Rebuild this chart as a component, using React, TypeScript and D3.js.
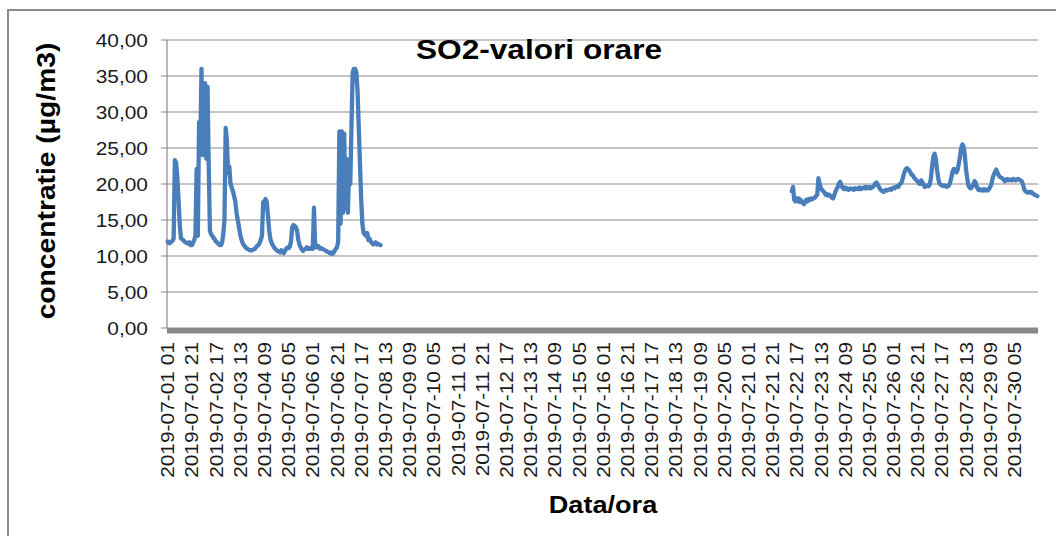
import React from 'react';
import * as d3 from 'd3';

// Hourly categories 2019-07-01 01 .. 2019-07-30 24
const dayNumbers = d3.range(1, 31);
const hourNumbers = d3.range(1, 25);
const categories: string[] = dayNumbers.flatMap((d) =>
  hourNumbers.map((h) => `2019-07-${String(d).padStart(2, '0')} ${String(h).padStart(2, '0')}`)
);

const tickLabels = [
  '2019-07-01 01', '2019-07-01 21', '2019-07-02 17', '2019-07-03 13', '2019-07-04 09', '2019-07-05 05',
  '2019-07-06 01', '2019-07-06 21', '2019-07-07 17', '2019-07-08 13', '2019-07-09 09', '2019-07-10 05',
  '2019-07-11 01', '2019-07-11 21', '2019-07-12 17', '2019-07-13 13', '2019-07-14 09', '2019-07-15 05',
  '2019-07-16 01', '2019-07-16 21', '2019-07-17 17', '2019-07-18 13', '2019-07-19 09', '2019-07-20 05',
  '2019-07-21 01', '2019-07-21 21', '2019-07-22 17', '2019-07-23 13', '2019-07-24 09', '2019-07-25 05',
  '2019-07-26 01', '2019-07-26 21', '2019-07-27 17', '2019-07-28 13', '2019-07-29 09', '2019-07-30 05',
];

const yTicks = [0, 5, 10, 15, 20, 25, 30, 35, 40];

// First measured block, hourly from 2019-07-01 01
const block1Start = '2019-07-01 01';
const block1Values = [
  12.0, 11.8, 11.8, 12.0, 12.1, 12.4,
  23.3, 23.0, 21.0, 18.0, 14.5, 12.5,
  12.3, 12.2, 12.0, 11.9, 11.8, 11.7, 11.9, 11.5, 11.5, 11.8, 12.2, 12.8,
  22.1, 12.8, 28.6, 24.7, 36.0, 24.0, 25.5, 34.0, 23.5, 33.5, 22.5, 13.5,
  13.0, 12.8, 12.5, 12.3, 12.0, 11.9, 11.7, 11.5, 11.5, 11.8, 13.0, 15.0,
  27.8, 26.0, 21.5, 22.4, 20.0, 19.5, 19.0, 18.3, 17.5, 16.0, 15.0, 14.0,
  13.0, 12.3, 11.8, 11.5, 11.3, 11.1, 11.0, 10.9, 10.8, 10.8, 10.8, 10.9,
  11.0, 11.2, 11.4, 11.5, 11.8, 12.2, 12.8, 17.5, 17.6, 17.9, 17.5, 15.5,
  13.5, 12.3, 11.8, 11.5, 11.2, 11.0, 10.8, 10.7, 10.6, 10.5, 10.8, 10.6,
  10.4, 10.7, 11.0, 11.2, 11.1, 11.3, 12.0, 14.0, 14.3, 14.2, 14.0, 13.5,
  12.3, 11.6, 11.2, 10.9, 10.7, 10.9, 11.0, 11.2, 11.0, 11.1, 11.0, 11.2,
  11.0, 16.7, 11.3, 11.2, 11.4, 11.3, 11.0, 11.1, 11.0, 10.9, 10.8, 10.7,
  10.6, 10.5, 10.4, 10.5, 10.3, 10.4, 10.7, 11.0, 11.2, 12.0, 27.3, 14.5,
  27.3, 16.0, 27.0, 16.5, 23.5, 16.0, 22.0, 20.0, 28.0, 35.5, 36.0, 36.0,
  35.5, 33.0, 28.0, 23.0, 18.0, 14.5, 13.2, 13.0, 12.8, 13.2, 12.2, 12.4,
  12.0, 11.8, 11.6, 11.7, 11.9, 11.6, 11.7, 11.6, 11.5,
];

// Second measured block, hourly from 2019-07-22 13
const block2Start = '2019-07-22 13';
const block2Values = [
  19.0, 19.6, 17.8, 17.6, 18.0, 17.6, 18.0, 17.5, 17.7, 17.4, 17.2, 17.4,
  17.8, 17.6, 17.9, 17.8, 18.0, 17.9, 18.0, 18.1, 18.3, 18.5, 20.8, 20.0,
  19.4, 19.2, 19.0, 18.8, 18.5, 18.6, 18.4, 18.5, 18.3, 18.1, 18.0, 18.4,
  18.9, 19.3, 19.6, 20.1, 20.3, 19.8, 19.5, 19.3, 19.5, 19.3, 19.4, 19.2,
  19.3, 19.4, 19.3, 19.2, 19.4, 19.3, 19.4, 19.3, 19.5, 19.3, 19.4, 19.5,
  19.4, 19.6, 19.4, 19.5, 19.6, 19.4, 19.5, 19.6, 19.8, 20.1, 20.2, 19.9,
  19.6, 19.3, 19.1, 19.0, 18.9, 19.1, 19.2, 19.1, 19.2, 19.3, 19.2, 19.4,
  19.5, 19.4, 19.6, 19.7, 19.6, 19.9, 20.1, 20.3, 21.0, 21.6, 22.0, 22.2,
  22.1, 21.9, 21.6, 21.3, 21.2, 20.9, 20.7, 20.5, 20.4, 20.1, 20.0, 20.5,
  20.2, 19.9, 19.6, 19.7, 19.8, 19.7, 19.9, 20.8, 22.5, 23.8, 24.2, 23.5,
  22.0, 20.8, 20.1, 19.9, 19.8, 19.7, 19.8, 19.7, 19.6, 19.7, 19.8, 20.3,
  21.0, 21.8, 22.1, 22.0, 21.6, 21.9, 22.8, 23.8, 25.0, 25.5, 25.2, 24.0,
  22.0, 20.8, 19.8, 19.5, 19.4, 19.6, 19.9, 20.4, 20.2, 19.6, 19.2, 19.3,
  19.1, 19.2, 19.1, 19.3, 19.1, 19.2, 19.1, 19.3, 19.6, 20.0, 20.8, 21.3,
  21.7, 22.0, 21.6, 21.2, 21.0, 20.9, 20.8, 20.6, 20.4, 20.5, 20.7, 20.5,
  20.6, 20.6, 20.5, 20.7, 20.6, 20.5, 20.6, 20.7, 20.6, 20.5, 20.4, 20.0,
  19.3, 19.0, 18.9, 18.8, 18.9, 18.8, 18.9, 18.7, 18.6, 18.5, 18.4, 18.3,
];

const FONT = '"Liberation Sans", Arial, Helvetica, sans-serif';
const SX = 1.13;

type Pt = { c: string; v: number | null };

export default function App() {
  const W = 1056;
  const H = 536;
  const left = 167;
  const right = 1038;
  const top = 40;
  const bottom = 328;

  const x = d3.scalePoint<string>().domain(categories).range([left, right]).padding(0.5);
  const y = d3.scaleLinear().domain([0, 40]).range([bottom, top]);

  const values: (number | null)[] = categories.map(() => null);
  const s1 = categories.indexOf(block1Start);
  block1Values.forEach((v, k) => (values[s1 + k] = v));
  const s2 = categories.indexOf(block2Start);
  block2Values.forEach((v, k) => (values[s2 + k] = v));
  const pts: Pt[] = categories.map((c, i) => ({ c, v: values[i] }));

  const line = d3
    .line<Pt>()
    .defined((d) => d.v != null)
    .x((d) => x(d.c) as number)
    .y((d) => y(d.v as number));

  const locale = d3.formatLocale({ decimal: ',', thousands: '.', grouping: [3], currency: ['', ''] });
  const fmt = locale.format('.2f');

  return (
    <svg
      width={W}
      height={H}
      style={{ position: 'absolute', left: 0, top: 0, background: '#fff' }}
      fontFamily={FONT}
    >
      <rect x={0} y={0} width={W} height={H} fill="#fff" />
      <rect x={8} y={10} width={1100} height={600} fill="none" stroke="#8c8c8c" strokeWidth={2} />

      {/* gridlines */}
      {yTicks.map((t) => (
        <line key={`g${t}`} x1={left - 6} x2={right} y1={y(t)} y2={y(t)} stroke="#8a8a8a" strokeWidth={1.2} />
      ))}
      <line x1={left} x2={left} y1={top} y2={bottom} stroke="#8a8a8a" strokeWidth={1.2} />
      <rect x={left} y={bottom} width={right - left} height={5.5} fill="#888888" />

      {/* y tick labels */}
      {yTicks.map((t) => (
        <text
          key={`y${t}`}
          transform={`translate(148,${y(t)}) scale(${SX},1)`}
          textAnchor="end"
          dy="0.36em"
          fontSize={18.5}
          fill="#1a1a1a"
        >
          {fmt(t)}
        </text>
      ))}

      {/* x tick labels */}
      {tickLabels.map((c) => (
        <text
          key={c}
          transform={`translate(${x(c)},342) rotate(-90) scale(${SX},1)`}
          textAnchor="end"
          dy="0.36em"
          fontSize={18.5}
          fill="#1a1a1a"
        >
          {c}
        </text>
      ))}

      {/* series */}
      <path
        d={line(pts) || ''}
        fill="none"
        stroke="#4a7ebb"
        strokeWidth={4.3}
        strokeLinejoin="round"
        strokeLinecap="round"
      />

      {/* titles */}
      <text
        transform={`translate(539,59) scale(${SX},1)`}
        textAnchor="middle"
        fontWeight="bold"
        fontSize={28}
        fill="#000"
      >
        SO2-valori orare
      </text>
      <text
        transform={`translate(55,181) rotate(-90) scale(${SX},1)`}
        textAnchor="middle"
        fontWeight="bold"
        fontSize={25}
        fill="#000"
      >
        concentratie (µg/m3)
      </text>
      <text
        transform={`translate(603,513) scale(${SX},1)`}
        textAnchor="middle"
        fontWeight="bold"
        fontSize={24}
        fill="#000"
      >
        Data/ora
      </text>
    </svg>
  );
}
